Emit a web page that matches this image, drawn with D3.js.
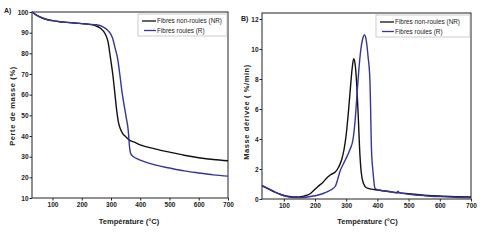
<!doctype html>
<html lang="fr">
  <head>
    <meta charset="utf-8">
    <title>ATG / DTG fibres</title>
    <script src="https://d3js.org/d3.v7.min.js"></script>
    <style>
      body { margin: 0; background: #fff; }
      svg { display: block; font-family: "Liberation Sans", Arial, sans-serif; }
      .tick text { font-size: 6.5px; font-weight: bold; fill: #222; }
      .tick line, .domain { stroke: #222; }
    </style>
  </head>
  <body>
    <div id="chart"></div>
    <script>

      // --- data ---
      // A) Perte de masse (%) vs temperature
      const tempA_NR = [30, 40, 55, 75, 100, 125, 150, 175, 200, 225, 250, 265, 280, 290, 298, 306, 313, 319, 325, 332, 340, 350, 363, 380, 400, 450, 500, 550, 600, 650, 700];
      const massA_NR = [100, 99, 97.8, 96.6, 95.8, 95.3, 95, 94.7, 94.4, 94, 93.2, 92, 89.5, 85.5, 78, 70, 61, 53, 47, 43.5, 41.2, 39.7, 38, 37, 35.7, 33.8, 32.2, 30.7, 29.5, 28.6, 28];
      const tempA_R = [30, 40, 55, 75, 100, 125, 150, 175, 200, 225, 250, 270, 290, 305, 315, 322, 330, 338, 346, 352, 357, 360, 362, 364, 368, 375, 385, 400, 450, 500, 550, 600, 650, 700];
      const massA_R = [100, 99, 97.8, 96.6, 95.8, 95.3, 95, 94.7, 94.4, 94.1, 93.8, 93, 91, 87.5, 82, 78, 70, 61, 54, 49, 45, 41, 37, 34, 31.3, 30.2, 29.3, 28.3, 26, 24.5, 23.1, 22.1, 21.2, 20.6];

      // B) Masse derivee (%/min) vs temperature
      const tempB_NR = [30, 50, 70, 90, 110, 130, 150, 165, 180, 195, 210, 225, 240, 250, 265, 275, 285, 293, 300, 307, 313, 319, 324, 329, 334, 339, 343, 348, 355, 365, 380, 400, 450, 500, 550, 600, 650, 700];
      const dtgB_NR = [0.88, 0.68, 0.47, 0.3, 0.19, 0.13, 0.14, 0.2, 0.3, 0.55, 0.85, 1.1, 1.45, 1.62, 1.8, 2.1, 2.6, 3.3, 4.3, 5.8, 7.3, 8.7, 9.35, 8.9, 7.5, 5.3, 3.3, 1.8, 1.05, 0.75, 0.66, 0.6, 0.46, 0.35, 0.26, 0.2, 0.16, 0.13];
      const tempB_R = [30, 50, 70, 90, 110, 130, 150, 170, 190, 210, 230, 250, 265, 281, 297, 312, 322, 328, 333, 340, 347, 353, 358.5, 364, 370, 376, 381, 386, 392, 400, 420, 450, 462, 466, 470, 500, 550, 600, 650, 700];
      const dtgB_R = [0.9, 0.7, 0.48, 0.3, 0.17, 0.1, 0.09, 0.12, 0.18, 0.27, 0.4, 0.6, 0.85, 1.9, 2.6, 3.3, 4.0, 5.1, 6.5, 8.5, 10.0, 10.7, 10.93, 10.6, 9.5, 7.9, 3.3, 1.8, 0.73, 0.62, 0.55, 0.45, 0.4, 0.52, 0.42, 0.32, 0.22, 0.16, 0.12, 0.1];

      const xTicks = [100, 200, 300, 400, 500, 600, 700];
      const yTicksA = [10, 20, 30, 40, 50, 60, 70, 80, 90, 100];
      const yTicksB = [0, 2, 4, 6, 8, 10, 12];
      const seriesNames = ["Fibres non-rouies (NR)", "Fibres rouies (R)"];
      const seriesColors = ["#111111", "#35359a"];

      const svg = d3.select("#chart")
        .append("svg")
          .attr("width", 480)
          .attr("height", 244);

      function drawPanel(p) {
        const x = d3.scaleLinear().domain(p.xDomain).range([p.left, p.right]);
        const y = d3.scaleLinear().domain(p.yDomain).range([p.bottom, p.top]);
        const g = svg.append("g");

        // X axis
        g.append("g")
          .attr("transform", `translate(0,${p.bottom})`)
          .call(d3.axisBottom(x).tickValues(xTicks).tickSize(2.5).tickPadding(2).tickFormat(d3.format("d")))
          .call(a => a.select(".domain").remove());

        // Y axis
        g.append("g")
          .attr("transform", `translate(${p.left},0)`)
          .call(d3.axisLeft(y).tickValues(p.yTicks).tickSize(2.5).tickPadding(1).tickFormat(d3.format("d")))
          .call(a => a.select(".domain").remove());

        // frame
        g.append("rect")
          .attr("x", p.left)
          .attr("y", p.top)
          .attr("width", p.right - p.left)
          .attr("height", p.bottom - p.top)
          .attr("fill", "none")
          .attr("stroke", "#222")
          .attr("stroke-width", 1);

        // curves
        const line = d3.line()
          .x(d => x(d[0]))
          .y(d => y(d[1]))
          .curve(d3.curveMonotoneX);
        p.series.forEach((s, i) => {
          g.append("path")
            .datum(d3.zip(s.t, s.v))
            .attr("fill", "none")
            .attr("stroke", seriesColors[i])
            .attr("stroke-width", 1.4)
            .attr("d", line);
        });

        // legend
        const lg = g.append("g").attr("transform", `translate(${p.legendX},${p.top + 2})`);
        lg.append("rect")
          .attr("width", p.right - 1 - p.legendX)
          .attr("height", 22)
          .attr("fill", "#fff")
          .attr("stroke", "#aaa")
          .attr("stroke-width", 0.6);
        seriesNames.forEach((name, i) => {
          lg.append("line")
            .attr("x1", 4 + i * 2).attr("x2", 18)
            .attr("y1", 7 + i * 9.5).attr("y2", 7 + i * 9.5)
            .attr("stroke", seriesColors[i])
            .attr("stroke-width", 1.3);
          lg.append("text")
            .attr("x", 19)
            .attr("y", 9.3 + i * 9.5)
            .attr("font-size", "6.4px")
            .attr("fill", "#222")
            .text(name);
        });

        // panel letter
        g.append("text")
          .attr("x", p.letterX)
          .attr("y", p.letterY)
          .attr("font-size", "7px")
          .attr("font-weight", "bold")
          .attr("fill", "#222")
          .text(p.letter);

        // axis titles
        g.append("text")
          .attr("x", (p.left + p.right) / 2 + p.xTitleShift)
          .attr("y", 224)
          .attr("text-anchor", "middle")
          .attr("font-size", "7.5px")
          .attr("font-weight", "bold")
          .attr("fill", "#222")
          .text("Température (°C)");

        g.append("text")
          .attr("transform", `translate(${p.yTitleX},${p.yTitleY}) rotate(-90)`)
          .attr("text-anchor", "middle")
          .attr("font-size", "7.5px")
          .attr("font-weight", "bold")
          .attr("letter-spacing", "0.6px")
          .attr("fill", "#222")
          .text(p.yTitle);
      }

      drawPanel({
        left: 32, right: 228, top: 12, bottom: 198,
        xDomain: [30, 700], yDomain: [10, 100], yTicks: yTicksA,
        series: [{t: tempA_NR, v: massA_NR}, {t: tempA_R, v: massA_R}],
        legendX: 138, letter: "A)", letterX: 4, letterY: 13,
        xTitleShift: -1, yTitle: "Perte de masse (%)", yTitleX: 15, yTitleY: 106
      });

      drawPanel({
        left: 262, right: 471, top: 13, bottom: 199,
        xDomain: [30, 700], yDomain: [0, 12.4], yTicks: yTicksB,
        series: [{t: tempB_NR, v: dtgB_NR}, {t: tempB_R, v: dtgB_R}],
        legendX: 376, letter: "B)", letterX: 241, letterY: 21,
        xTitleShift: 1, yTitle: "Masse dérivée ( %/min)", yTitleX: 249, yTitleY: 112
      });

    </script>
  </body>
</html>
